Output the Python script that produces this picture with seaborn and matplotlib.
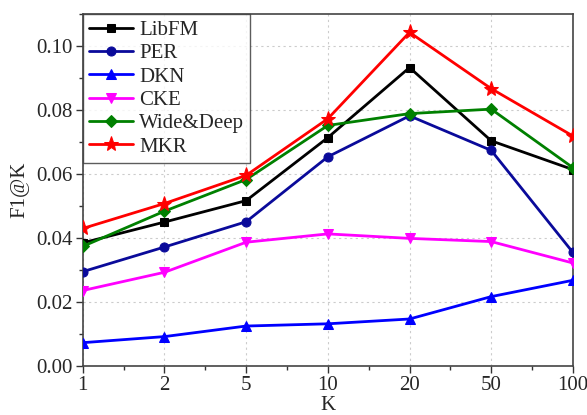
import matplotlib

matplotlib.use("Agg")

import matplotlib.pyplot as plt
import pandas as pd
import seaborn as sns
from matplotlib.ticker import AutoMinorLocator, MultipleLocator

k_labels = ["1", "2", "5", "10", "20", "50", "100"]

libfm = [0.0385, 0.0450, 0.0517, 0.0714, 0.0933, 0.0704, 0.0614]
per = [0.0295, 0.0372, 0.0451, 0.0654, 0.0782, 0.0674, 0.0355]
dkn = [0.0073, 0.0092, 0.0125, 0.0132, 0.0147, 0.0217, 0.0268]
cke = [0.0236, 0.0293, 0.0387, 0.0413, 0.0399, 0.0389, 0.0322]
wide_deep = [0.0374, 0.0484, 0.0583, 0.0752, 0.0789, 0.0803, 0.0620]
mkr = [0.0430, 0.0508, 0.0596, 0.0773, 0.1043, 0.0867, 0.0719]

models = ["LibFM", "PER", "DKN", "CKE", "Wide&Deep", "MKR"]
series = [libfm, per, dkn, cke, wide_deep, mkr]
colors = ["black", "#0a0a9a", "#0000ff", "#ff00ff", "#008000", "#ff0000"]
marker_map = ["s", "o", "^", "v", "D", "*"]

rows = []
for name, vals in zip(models, series):
    for pos, (k, v) in enumerate(zip(k_labels, vals)):
        rows.append({"pos": pos, "K": k, "model": name, "f1": v})
df = pd.DataFrame(rows)

sns.set_theme(style="white")
plt.rcParams["font.family"] = ["Liberation Serif", "DejaVu Serif"]

fig, ax = plt.subplots(figsize=(5.87, 4.15), dpi=100)

sizes = {"s": 6, "o": 6.5, "^": 7.5, "v": 7.5, "D": 6, "*": 11}
for name, col, mk in zip(models, colors, marker_map):
    sub = df[df["model"] == name]
    sns.lineplot(
        sub,
        x="pos",
        y="f1",
        color=col,
        marker=mk,
        markersize=sizes[mk],
        markeredgecolor=col,
        linewidth=2,
        label=name,
        ax=ax,
        zorder=3,
    )

ax.set_xlim(0, len(k_labels) - 1)
ax.set_ylim(0, 0.11)
ax.set_xticks(range(len(k_labels)))
ax.set_xticklabels(k_labels)
ax.xaxis.set_minor_locator(MultipleLocator(0.5))
ax.yaxis.set_major_locator(MultipleLocator(0.02))
ax.yaxis.set_minor_locator(AutoMinorLocator(2))
ax.yaxis.set_major_formatter(matplotlib.ticker.FormatStrFormatter("%.2f"))

ax.tick_params(axis="both", which="major", direction="out", length=5, width=1,
               labelsize=15, color="#333333", bottom=True, left=True, pad=2)
ax.tick_params(axis="both", which="minor", direction="out", length=3, width=1,
               color="#333333", bottom=True, left=True)

ax.grid(True, which="major", linestyle=(0, (2, 3)), color="#cccccc", linewidth=0.8)
for sp in ax.spines.values():
    sp.set_color("#444444")
    sp.set_linewidth(1.2)

ax.set_xlabel("K", fontsize=15, labelpad=1)
ax.set_ylabel("F1@K", fontsize=15, labelpad=5)

leg = ax.legend(
    loc="upper left",
    fontsize=15,
    handlelength=2.1,
    handletextpad=0.3,
    labelspacing=0.18,
    borderpad=0.3,
    borderaxespad=0,
    frameon=True,
    fancybox=False,
)
leg.get_frame().set_edgecolor("#333333")
leg.get_frame().set_linewidth(1)

fig.subplots_adjust(left=0.141, right=0.976, top=0.966, bottom=0.118)
fig.savefig("out.png", dpi=100)
